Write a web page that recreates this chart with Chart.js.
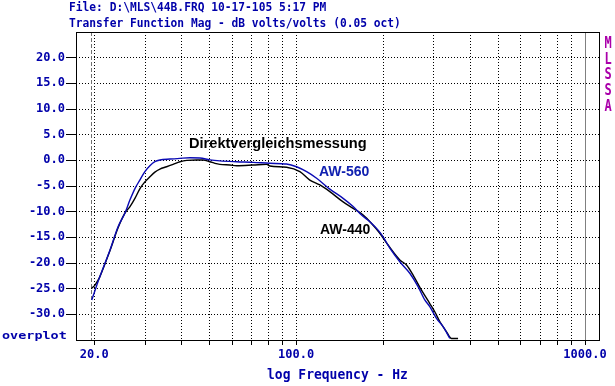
<!DOCTYPE html>
<html>
<head>
<meta charset="utf-8">
<script src="https://cdn.jsdelivr.net/npm/chart.js@4"></script>
<style>
html, body { margin: 0; padding: 0; background: #fff; }
</style>
</head>
<body>
<canvas id="chart" width="615" height="386"></canvas>
<script>
// Data (Hz / dB)
const freqAW560 = [19.6, 20.9, 22.66, 24.2, 25.53, 26.59, 27.66, 28.79, 29.94, 31.16, 32.43, 33.75, 36.56, 39.59, 42.87, 46.43, 50.27, 54.45, 62.2, 71.0, 81.1, 92.6, 100.3, 108.7, 117.7, 130.8, 145.4, 157.5, 168.4, 179.9, 192.2, 200, 211, 228.5, 247.4, 264.3, 278.8, 290.2, 306.1, 322.7, 340.4];
const dbAW560 = [-27.2, -22.7, -17.5, -12.9, -10.3, -7.7, -5.5, -3.8, -2.2, -1.05, -0.27, 0.06, 0.25, 0.39, 0.5, 0.45, 0.1, -0.1, -0.27, -0.39, -0.58, -0.72, -1.25, -2.22, -3.5, -5.6, -7.4, -9.0, -10.66, -11.96, -13.6, -14.9, -17.1, -19.75, -22.0, -24.6, -27.2, -28.5, -30.8, -32.4, -34.7];

const freqAW440 = [19.6, 20.11, 20.64, 20.9, 22.66, 24.2, 25.53, 26.59, 27.66, 28.79, 29.94, 31.16, 32.43, 33.75, 35.6, 37.5, 39.59, 41.8, 45.2, 47.66, 50.27, 52.33, 54.45, 58.97, 62.2, 71.0, 79.0, 81.1, 92.6, 103, 111.5, 120.8, 130.8, 145.4, 157.5, 170.6, 182.4, 194.8, 208.1, 228.5, 241.0, 254, 271.6, 290.2, 301.9, 314.2, 331.6, 345.0, 363.5];
const dbAW440 = [-24.9, -24.3, -23.3, -22.7, -17.6, -13.1, -10.3, -9.0, -7.4, -5.5, -4.2, -3.2, -2.3, -1.7, -1.25, -0.78, -0.27, 0, 0.06, 0.06, -0.27, -0.58, -0.78, -0.92, -1.05, -0.92, -0.78, -1.1, -1.36, -2.2, -3.84, -4.8, -6.1, -8.1, -9.35, -10.66, -12.3, -14.2, -16.5, -19.4, -20.4, -22.35, -25.3, -27.9, -29.5, -31.4, -33.4, -34.7, -34.7];

const xGridHz = [20, 30, 40, 50, 60, 70, 80, 90, 100, 200, 300, 400, 500, 600, 700, 800, 900, 1000];
const xLabelHz = [20, 100, 1000];
const yTicksDb = [-30, -25, -20, -15, -10, -5, 0, 5, 10, 15, 20];
const cursorHz = 19.5;

const BLUE = '#0000AA';
const MAGENTA = '#AA00AA';
const MONO = "'DejaVu Sans Mono', monospace";
const tickFont = { family: MONO, size: 12, weight: 'bold' };

function toPoints(xs, ys) {
    return xs.map((x, i) => ({ x: x, y: ys[i] }));
}

function stretchText(ctx, text, x, y, sx, sy, align) {
    ctx.save();
    ctx.translate(x, y);
    ctx.scale(sx, sy);
    ctx.textAlign = align || 'left';
    ctx.textBaseline = 'alphabetic';
    ctx.fillText(text, 0, 0);
    ctx.restore();
}

// Frame, cursor line and the texts around the plot
const mlssaDecor = {
    id: 'mlssaDecor',
    beforeDatasetsDraw(chart) {
        const ctx = chart.ctx;
        const a = chart.chartArea;
        const xc = Math.round(chart.scales.x.getPixelForValue(cursorHz)) + 0.5;
        ctx.save();
        ctx.strokeStyle = '#707070';
        ctx.lineWidth = 1;
        ctx.setLineDash([4, 2]);
        ctx.beginPath();
        ctx.moveTo(xc, a.top);
        ctx.lineTo(xc, a.bottom);
        ctx.stroke();
        ctx.restore();
    },
    afterDraw(chart) {
        const ctx = chart.ctx;
        const a = chart.chartArea;
        ctx.save();
        ctx.strokeStyle = '#000';
        ctx.lineWidth = 1;
        ctx.setLineDash([]);
        ctx.strokeRect(Math.round(a.left) + 0.5, Math.round(a.top) + 0.5,
            Math.round(a.right - a.left) - 1, Math.round(a.bottom - a.top));

        // header
        ctx.fillStyle = BLUE;
        ctx.font = 'bold 11.25px ' + MONO;
        stretchText(ctx, 'File: D:\\MLS\\44B.FRQ 10-17-105 5:17 PM', 69, 11.3, 1, 1.1);
        stretchText(ctx, 'Transfer Function Mag - dB volts/volts (0.05 oct)', 69, 27.3, 1, 1.1);

        // axis title + overplot tag
        ctx.font = 'bold 13px ' + MONO;
        stretchText(ctx, 'log Frequency - Hz', 267, 379, 1, 1.05);
        ctx.font = 'bold 11.5px ' + MONO;
        stretchText(ctx, 'overplot', 2, 339, 1.17, 0.95);

        // MLSSA side tag
        ctx.fillStyle = MAGENTA;
        ctx.font = 'bold 12px ' + MONO;
        ['M', 'L', 'S', 'S', 'A'].forEach((ch, i) => {
            stretchText(ctx, ch, 608, 47.7 + i * 15.8, 1, 1.25, 'center');
        });

        // annotations
        ctx.fillStyle = '#000';
        ctx.font = "bold 14.6px 'Liberation Sans', Arial, sans-serif";
        stretchText(ctx, 'Direktvergleichsmessung', 189, 148, 1, 1);
        ctx.font = "bold 14px 'Liberation Sans', Arial, sans-serif";
        ctx.fillStyle = '#1020B0';
        stretchText(ctx, 'AW-560', 319, 175.5, 1, 1);
        ctx.fillStyle = '#000';
        stretchText(ctx, 'AW-440', 320, 234, 1, 1);
        ctx.restore();
    }
};

const isEdge = c => c.tick && c.tick.value === 1000;

new Chart(document.getElementById('chart'), {
    type: 'line',
    data: {
        datasets: [
            {
                label: 'AW-560',
                data: toPoints(freqAW560, dbAW560),
                borderColor: '#0A0AB4',
                borderWidth: 1.4,
                pointRadius: 0,
                cubicInterpolationMode: 'monotone'
            },
            {
                label: 'AW-440',
                data: toPoints(freqAW440, dbAW440),
                borderColor: '#000',
                borderWidth: 1.4,
                pointRadius: 0,
                cubicInterpolationMode: 'monotone'
            }
        ]
    },
    options: {
        responsive: false,
        devicePixelRatio: 1,
        animation: false,
        layout: { padding: { top: 32, right: 15, left: 0, bottom: 0 } },
        plugins: {
            legend: { display: false },
            tooltip: { enabled: false },
            title: { display: false }
        },
        scales: {
            x: {
                type: 'logarithmic',
                min: 17.29,
                max: 1127,
                afterBuildTicks: s => { s.ticks = xGridHz.map(v => ({ value: v })); },
                afterFit: s => { s.height = 46; },
                ticks: {
                    autoSkip: false,
                    maxRotation: 0,
                    minRotation: 0,
                    padding: 3,
                    color: BLUE,
                    font: tickFont,
                    callback: v => xLabelHz.includes(v) ? v.toFixed(1) : ''
                },
                grid: {
                    color: c => isEdge(c) ? '#808080' : '#000',
                    lineWidth: 1,
                    tickLength: 5,
                    tickColor: '#000',
                    tickBorderDash: []
                },
                border: { display: false, dash: c => isEdge(c) ? [] : [1, 2] }
            },
            y: {
                type: 'linear',
                min: -35,
                max: 25,
                afterBuildTicks: s => { s.ticks = yTicksDb.map(v => ({ value: v })); },
                afterFit: s => { s.width = 76; },
                ticks: {
                    padding: 1,
                    color: BLUE,
                    font: tickFont,
                    callback: v => v.toFixed(1)
                },
                grid: {
                    color: '#000',
                    lineWidth: 1,
                    tickLength: 10,
                    tickColor: '#000',
                    tickBorderDash: []
                },
                border: { display: false, dash: [1, 2] }
            }
        }
    },
    plugins: [mlssaDecor]
});
</script>
</body>
</html>
